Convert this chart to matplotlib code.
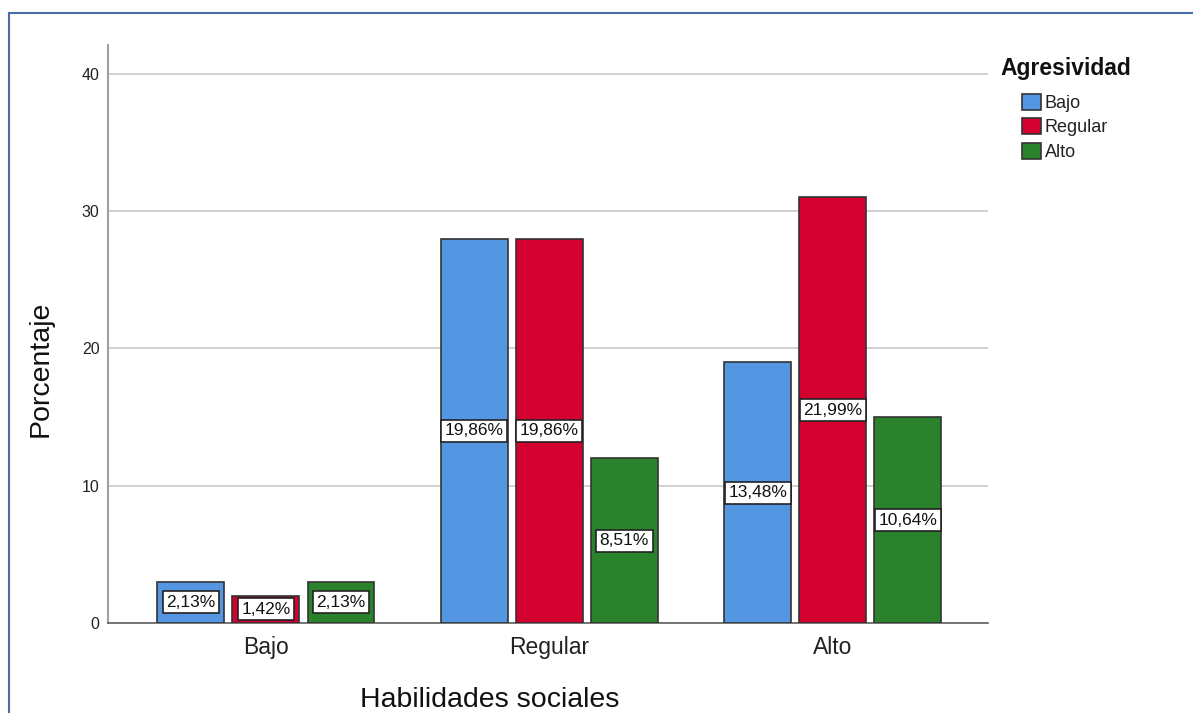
import numpy as np
import matplotlib.pyplot as plt
from matplotlib.lines import Line2D

plt.rcParams['font.family'] = ['Liberation Sans', 'DejaVu Sans']

# data: counts (bar heights) and percent labels
categorias = ["Bajo", "Regular", "Alto"]
grupos = ["Bajo", "Regular", "Alto"]
conteos = {
    "Bajo": [3, 28, 19],
    "Regular": [2, 28, 31],
    "Alto": [3, 12, 15],
}
etiquetas = {
    "Bajo": ["2,13%", "19,86%", "13,48%"],
    "Regular": ["1,42%", "19,86%", "21,99%"],
    "Alto": ["2,13%", "8,51%", "10,64%"],
}
colores = {"Bajo": "#5596E2", "Regular": "#D40030", "Alto": "#2A832C"}

fig = plt.figure(figsize=(11.93, 7.13), dpi=100)
ax = fig.add_axes([0.0905, 0.1262, 0.7375, 0.8107])

x = np.arange(len(categorias))
ancho = 0.236
paso = 0.265
for i, g in enumerate(grupos):
    pos = x + (i - 1) * paso
    barras = ax.bar(pos, conteos[g], width=ancho, color=colores[g],
                    edgecolor="#333333", linewidth=1.2, label=g, zorder=3)
    for b, txt in zip(barras, etiquetas[g]):
        h = b.get_height()
        ax.text(b.get_x() + b.get_width() / 2, h / 2, txt, ha="center", va="center",
                fontsize=12.5, zorder=4, color="#111111",
                bbox=dict(boxstyle="square,pad=0.2", fc="white", ec="#222222", lw=1.2))

ax.set_xlim(-0.557, 2.547)
ax.set_ylim(0, 42.1)
ax.set_yticks([0, 10, 20, 30, 40])
ax.set_yticklabels(["0", "10", "20", "30", "40"], fontsize=11.5, color="#222222")
ax.set_xticks(x)
ax.set_xticklabels(categorias, fontsize=16.5, color="#222222")
ax.tick_params(axis="both", length=0)
ax.tick_params(axis="y", pad=6)
ax.tick_params(axis="x", pad=9)
ax.grid(axis="y", color="#C8C8C8", linewidth=1.2, zorder=0)
for s in ["top", "right"]:
    ax.spines[s].set_visible(False)
ax.spines["left"].set_color("#A0A0A0")
ax.spines["left"].set_linewidth(1.5)
ax.spines["bottom"].set_color("#606060")
ax.spines["bottom"].set_linewidth(1.2)

fig.text(490 / 1193, 1 - 707 / 713, "Habilidades sociales", ha="center", va="baseline",
         fontsize=20.5, color="#111111")
fig.text(41 / 1193, 1 - 369 / 713, "Porcentaje", ha="center", va="center",
         rotation=90, fontsize=20.5, color="#111111")

# legend: title placed separately so the entries sit indented under it
fig.text(1000 / 1193, 1 - 75 / 713, "Agresividad", ha="left", va="baseline",
         fontsize=16.5, fontweight="bold", color="#111111")
leg = ax.legend(loc="upper left",
                bbox_to_anchor=(1022 / 1193, 1 - 94 / 713),
                bbox_transform=fig.transFigure, frameon=False, fontsize=13,
                handlelength=1.05, handleheight=0.95, handletextpad=0.2,
                labelspacing=0.36, borderpad=0, borderaxespad=0)
for t in leg.get_texts():
    t.set_color("#222222")

# page border (top and left)
fig.add_artist(Line2D([9 / 1193, 1], [1 - 13 / 713, 1 - 13 / 713],
                      color="#4A6FA8", linewidth=1.5))
fig.add_artist(Line2D([9 / 1193, 9 / 1193], [0, 1 - 13 / 713],
                      color="#4A6FA8", linewidth=1.5))

fig.savefig("out.png", dpi=100)
